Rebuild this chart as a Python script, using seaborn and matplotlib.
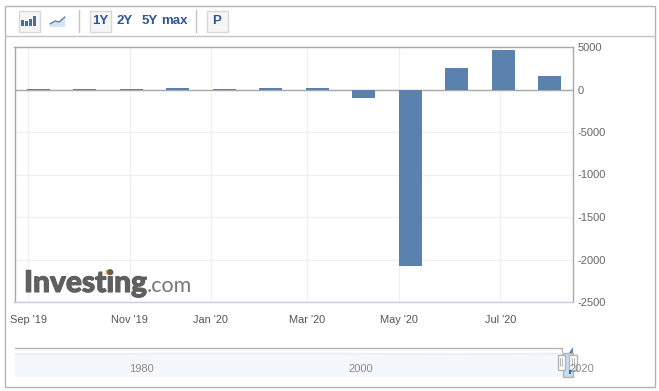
import pandas as pd
import seaborn as sns
import matplotlib.pyplot as plt
import matplotlib.patheffects as pe
from matplotlib.patches import Rectangle, Polygon

# monthly values
months = ['Sep 19', 'Oct 19', 'Nov 19', 'Dec 19', 'Jan 20', 'Feb 20',
          'Mar 20', 'Apr 20', 'May 20', 'Jun 20', 'Jul 20', 'Aug 20']
values = [60, 60, 60, 190, 60, 190, 190, -950, -20750, 2550, 4700, 1620]

# the axis is ordinal, month ticks sit a bit before the bars
tick_pos = [-0.215, 1.96, 3.71, 5.78, 7.76, 9.94]
tick_labels = ["Sep '19", "Nov '19", "Jan '20", "Mar '20", "May '20", "Jul '20"]
y_ticks = [5000, 0, -5000, -10000, -15000, -20000, -25000]
# the page clips the long labels to five characters
y_labels = ['5000', '0', '-5000', '-1000', '-1500', '-2000', '-2500']
nav_years = ['1980', '2000', '2020']

W, H = 659, 391
df = pd.DataFrame({'month': months, 'value': values})

sns.set_style("white")
plt.rcParams['font.family'] = ['Liberation Sans', 'DejaVu Sans']

fig = plt.figure(figsize=(W / 100, H / 100), dpi=100)
ax = fig.add_axes([14.5 / W, 1 - 302 / H, (573 - 14.5) / W, (302 - 47) / H], zorder=2)

sns.barplot(data=df, x='month', y='value', color='#5b82ae', saturation=1,
            width=0.495, linewidth=0, ax=ax, zorder=3)

ax.set_xlim(-0.516, 11.5)
ax.set_ylim(-25000, 5000)
ax.set_xlabel('')
ax.set_ylabel('')
ax.set_xticks(tick_pos, tick_labels)
ax.set_yticks(y_ticks, y_labels)
ax.yaxis.tick_right()
ax.tick_params(axis='x', length=0, pad=9.5, labelsize=7.9, labelcolor='#555555')
ax.tick_params(axis='y', length=0, pad=3.5, labelsize=8, labelcolor='#666666')
ax.grid(True, color='#f0f0f0', linewidth=1)
ax.set_axisbelow(True)
ax.axhline(0, color='#aaaaaa', linewidth=1, zorder=2)
for side in ['left', 'right', 'top']:
    ax.spines[side].set_color('#a8a8a8')
    ax.spines[side].set_linewidth(1)
ax.spines['bottom'].set_color('#c0d0e0')
ax.spines['bottom'].set_linewidth(1)

# overlay in page pixels for the widget chrome
pg = fig.add_axes([0, 0, 1, 1], zorder=1)
pg.set_xlim(0, W)
pg.set_ylim(H, 0)
pg.axis('off')
top = fig.add_axes([0, 0, 1, 1], zorder=3)
top.set_xlim(0, W)
top.set_ylim(H, 0)
top.axis('off')
top.patch.set_alpha(0)

pg.add_patch(Rectangle((4.5, 5.5), 650.5, 381, fc='white', ec='#b4b4b4', lw=1))
pg.plot([4.5, 655], [36, 36], color='#c4c4c4', lw=1)
for x in [78.5, 195.5]:
    pg.plot([x, x], [10, 32], color='#c4c4c4', lw=1)
for x, w in [(18.5, 21), (89.5, 21), (206.5, 21)]:
    pg.add_patch(Rectangle((x, 10.5), w, 21, fc='#f6f6f6', ec='#d8d8d8', lw=1))

# bar icon
for x, h in [(21, 6), (25, 5), (29, 7), (33, 10)]:
    pg.add_patch(Rectangle((x, 26 - h), 3, h, fc='#4a6f9c', ec='none'))
# area icon
pg.add_patch(Polygon([(50, 24), (55, 21), (59, 22), (65, 17), (65, 27), (50, 27)],
                     fc='#d8e4f0', ec='none'))
pg.plot([50, 55, 59, 65], [24, 21, 22, 17], color='#5b82ae', lw=1)

for x, s in [(100, '1Y'), (124.5, '2Y'), (149.5, '5Y'), (174.5, 'max'), (217, 'P')]:
    pg.text(x, 21.5, s, ha='center', va='center', fontsize=9.5, fontweight='bold',
            color='#2f5597')

# navigator
pg.plot([15, 562], [347.5, 347.5], color='#b4b4b4', lw=1)
pg.plot([562, 562], [347.5, 354], color='#b4b4b4', lw=1)
pg.add_patch(Rectangle((15, 354), 547, 23, fc='#f4f8fd', ec='none'))
pg.plot([15, 125, 165, 330, 450, 562], [354, 353.8, 353.5, 353.5, 354.2, 353.5],
        color='#e6eef7', lw=1.2)
pg.add_patch(Rectangle((562.5, 353), 10, 24, fc='#c4dcf5', ec='#b4b4b4', lw=1))
for x, s in zip([141, 361, 581.5], nav_years):
    top.text(x, 369, s, ha='center', va='center', fontsize=8, color='#8a8a8a')
for x in [557.5, 569]:
    top.add_patch(Rectangle((x, 354.5), 7.5, 15, fc='white', ec='#b4b4b4', lw=1))
    top.plot([x + 2.8, x + 2.8], [358, 366], color='#b4b4b4', lw=0.7)
    top.plot([x + 4.6, x + 4.6], [358, 366], color='#b4b4b4', lw=0.7)
top.add_patch(Polygon([(569, 353), (573, 347), (573, 353)], fc='#5b82ae', ec='none'))
top.add_patch(Rectangle((569, 370), 2, 4, fc='#2b6aa8', ec='none'))

# logo
logo = top.text(24, 292, 'Investing', ha='left', va='baseline', fontsize=21.5,
                fontweight='black', color='#5f5f5f', family=['Lato'])
logo.set_path_effects([pe.withStroke(linewidth=0.8, foreground='#5f5f5f')])
top.text(146.5, 292, '.com', ha='left', va='baseline', fontsize=15.5,
         color='#777777', family=['Lato'])
top.add_patch(Polygon([(105.5, 270), (110.5, 269), (110.5, 274), (105.5, 274.5)],
                      fc='#f5b240', ec='none'))

fig.savefig('out.png', dpi=100)
